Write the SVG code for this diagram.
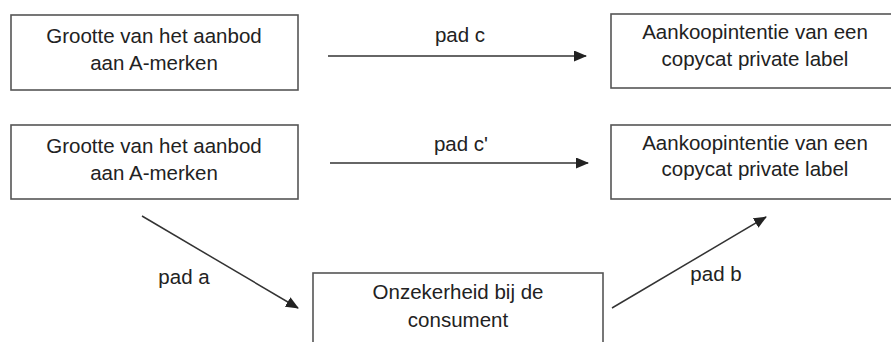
<svg xmlns="http://www.w3.org/2000/svg" width="891" height="342" viewBox="0 0 891 342">
<style>
.box{fill:#fff;stroke:#555;stroke-width:1.6}
.t{font-family:"Liberation Sans",Arial,sans-serif;font-size:20.5px;fill:#222;text-anchor:middle}
.c{stroke:#333;stroke-width:1.5;fill:none;marker-end:url(#ah)}
</style>
<defs>
<marker id="ah" markerWidth="13" markerHeight="11" refX="12" refY="5.5" orient="auto" markerUnits="userSpaceOnUse">
<path d="M0,0 L13,5.5 L0,11 Z" fill="#222"/>
</marker>
</defs>
<rect width="891" height="342" fill="#fff"/>
<g id="n1"><rect class="box" x="11" y="15" width="287" height="75"/>
<text class="t" x="154" y="43">Grootte van het aanbod</text>
<text class="t" x="154" y="70">aan A-merken</text></g>
<g id="n2"><rect class="box" x="611" y="14" width="287" height="74"/>
<text class="t" x="755" y="39">Aankoopintentie van een</text>
<text class="t" x="755" y="66">copycat private label</text></g>
<g id="n3"><rect class="box" x="11" y="125" width="287" height="74"/>
<text class="t" x="154" y="153">Grootte van het aanbod</text>
<text class="t" x="154" y="180">aan A-merken</text></g>
<g id="n4"><rect class="box" x="611" y="125" width="287" height="74"/>
<text class="t" x="755" y="150">Aankoopintentie van een</text>
<text class="t" x="755" y="176">copycat private label</text></g>
<g id="n5"><rect class="box" x="313" y="273" width="290" height="80"/>
<text class="t" x="458" y="299">Onzekerheid bij de</text>
<text class="t" x="458" y="327">consument</text></g>
<g id="connectors">
<line class="c" x1="328" y1="56" x2="586" y2="56"/>
<line class="c" x1="330" y1="163" x2="588" y2="163"/>
<line class="c" x1="142" y1="216" x2="298" y2="308"/>
<line class="c" x1="612" y1="308" x2="766" y2="217"/>
<text class="t" x="460" y="42">pad c</text>
<text class="t" x="461" y="151">pad c'</text>
<text class="t" x="184" y="284">pad a</text>
<text class="t" x="716" y="281">pad b</text>
</g>
</svg>
